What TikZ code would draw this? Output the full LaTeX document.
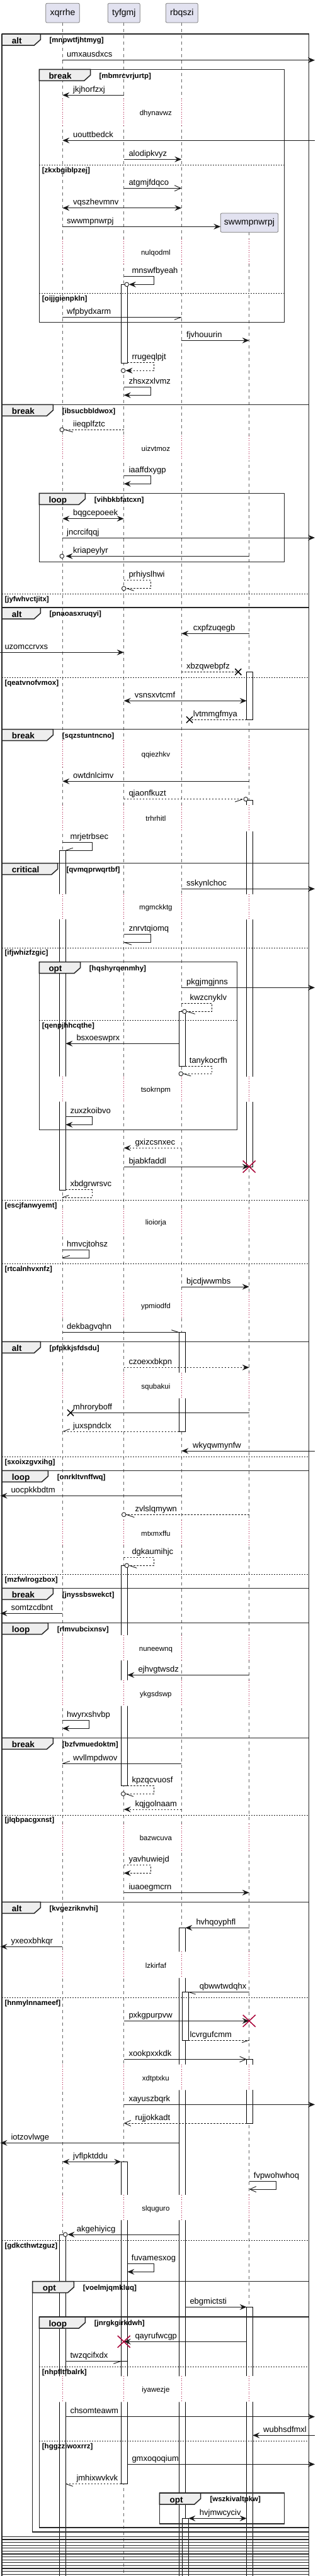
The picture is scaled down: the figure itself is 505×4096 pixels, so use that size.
\documentclass[tikz,border=0pt]{standalone}
\usepackage{fontspec}
\setmainfont{Liberation Sans}
\usetikzlibrary{arrows.meta}
\definecolor{partfill}{HTML}{E2E2F0}
\definecolor{tabfill}{HTML}{EEEEEE}
\definecolor{delayred}{HTML}{A80036}
\def\LA{99.3}
\def\LB{196.7}
\def\LC{288.3}
\def\LD{395.7}
\tikzset{
 life/.style={draw=black!60, line width=0.7pt, dash pattern=on 5pt off 5pt},
 actv/.style={draw=black, fill=white, line width=0.8pt},
 dlyl/.style={draw=delayred, line width=0.8pt, dash pattern=on 1pt off 2.5pt},
 frm/.style={draw=black!85, line width=1.5pt},
 dvdl/.style={draw=black!85, line width=0.8pt, dash pattern=on 2pt off 2pt},
 part/.style={draw=black!55, fill=partfill, rounded corners=2pt, line width=0.7pt, inner sep=0pt, text height=10pt, text depth=3pt, font=\fontsize{14}{16}\selectfont},
 msgl/.style={draw=black!90, line width=0.9pt},
 dsh/.style={dash pattern=on 2.5pt off 2.5pt},
 fa/.style={-{Stealth[length=11pt,width=9pt,inset=4pt]}},
 fb/.style={{Stealth[length=11pt,width=9pt,inset=4pt]}-{Stealth[length=11pt,width=9pt,inset=4pt]}},
 oa/.style={-{Straight Barb[length=10pt,width=9pt]}},
 lbl/.style={anchor=base west, inner sep=0pt, font=\fontsize{13}{15}\selectfont},
 dlyt/.style={anchor=base, inner sep=0pt, font=\fontsize{11.5}{13}\selectfont},
 grd/.style={anchor=base west, inner sep=0pt, font=\bfseries\fontsize{11.5}{13}\selectfont},
 tabl/.style={anchor=base west, inner sep=0pt, font=\bfseries\fontsize{13.5}{15}\selectfont}
}
\newcommand{\lbl}[3]{\node[lbl] (m-#3) at (#1,#2) {#3};}
\newcommand{\ecirc}[2]{\draw[msgl, fill=white] (#1,#2) circle[radius=3.3pt];}
\newcommand{\lostx}[2]{\draw[line width=1.5pt, draw=black] (#1-5,#2-5) -- (#1+5,#2+5) (#1-5,#2+5) -- (#1+5,#2-5);}
\newcommand{\destroyx}[2]{\draw[line width=1.5pt, draw=delayred] (#1-10,#2-9.5) -- (#1+10,#2+9.5) (#1-10,#2+9.5) -- (#1+10,#2-9.5);}
\newcommand{\ftab}[7]{%
 \draw[frm, fill=tabfill] (#1,#2) -- (#3,#2) -- (#3,#2+9) -- (#3-10,#2+18) -- (#1,#2+18) -- cycle;
 \node[tabl] (t-#7) at (#4,#2+15) {#5};
 \node[grd] (g-#7) at (#6,#2+13.7) {[#7]};}
\newcommand{\dvd}[5]{%
 \draw[dvdl] (#1,#3) -- (#2,#3);
 \node[grd] (g-#5) at (#4,#3+11.8) {[#5]};}
\newcommand{\dly}[4]{%
 \fill[white] (93,#1) rectangle (106,#2) (190.5,#1) rectangle (204,#2) (282.5,#1) rectangle (301,#2);
 \draw[dlyl] (\LA,#1) -- (\LA,#2) (\LB,#1) -- (\LB,#2) (\LC,#1) -- (\LC,#2);
 \ifnum#4=1
 \fill[white] (390,#1) rectangle (403,#2);
 \draw[dlyl] (\LD,#1) -- (\LD,#2);
 \fi
 \node[dlyt] (d-#3) at ({247.4},{(#1+#2)/2+5}) {#3};}
\begin{document}
\begin{tikzpicture}[x=1pt,y=-1pt]
\useasboundingbox (0,0) rectangle (505,4096);
\fill[white] (0,0) rectangle (505,4096);
% lifelines
\draw[life] (\LA,36) -- (\LA,4096);
\draw[life] (\LB,36) -- (\LB,4096);
\draw[life] (\LC,36) -- (\LC,4096);
\draw[life] (\LD,369.3) -- (\LD,4096);
% activations
\draw[actv] (94.7,1352.3) rectangle (104.3,1892.3);
\draw[actv] (94.7,3553) rectangle (104.3,4100);
\draw[actv] (192.3,452.3) rectangle (202.3,577.3);
\draw[actv] (192.3,2489.3) rectangle (202.3,2839.3);
\draw[actv] (192.3,3437.3) rectangle (202.3,3949.3);
\draw[actv] (192.3,3754.3) rectangle (202.3,3949.3);
\draw[actv] (284.3,1608.3) rectangle (294.3,1695);
\draw[actv] (284.3,2118.7) rectangle (294.3,2276.3);
\draw[actv] (284.3,3065.3) rectangle (294.3,4100);
\draw[actv] (289.3,3167.3) rectangle (299.3,3244);
\draw[actv] (289.3,4004.3) rectangle (299.3,4100);
\draw[actv] (391.7,1068.3) rectangle (401.3,1144.3);
\draw[actv] (391.7,1272.3) rectangle (401.3,1855);
\draw[actv] (391.7,3274.3) rectangle (401.3,3376);
\draw[actv] (391.7,3668.3) rectangle (401.3,4100);
% delays
\dly{156.7}{200}{dhynavwz}{0}
\dly{380}{420}{nulqodml}{1}
\dly{693.3}{731.7}{uizvtmoz}{1}
\dly{1176.7}{1220}{qqiezhkv}{1}
\dly{1280}{1321.7}{trhrhitl}{1}
\dly{1421.7}{1461.7}{mgmckktg}{1}
\dly{1711.7}{1751.7}{tsokrnpm}{1}
\dly{1922}{1963}{lioiorja}{1}
\dly{2055}{2095}{ypmiodfd}{1}
\dly{2182.7}{2223.3}{squbakui}{1}
\dly{2417}{2457}{mtxmxffu}{1}
\dly{2600}{2640}{nuneewnq}{1}
\dly{2671.7}{2712.7}{ykgsdswp}{1}
\dly{2900}{2942.7}{bazwcuva}{1}
\dly{3103.3}{3145}{lzkirfaf}{1}
\dly{3282.7}{3323.3}{xdtptxku}{1}
\dly{3490}{3530}{slquguro}{1}
\dly{3778.3}{3819.3}{iyawezje}{1}
% participants
\node[part, minimum width=53.6pt, minimum height=30.7pt] (xqrrhe) at (99.5,20.65) {xqrrhe};
\node[part, minimum width=51pt, minimum height=30.7pt] (tyfgmj) at (196.8,20.65) {tyfgmj};
\node[part, minimum width=51pt, minimum height=30.7pt] (rbqszi) at (288.8,20.65) {rbqszi};
\node[part, minimum width=91.4pt, minimum height=30.3pt] (swwmpnwrpj) at (396,354.15) {swwmpnwrpj};
% full-width frames
\draw[frm] (3,54) -- (3,4100);
\draw[frm] (490.7,54) -- (490.7,4100);
\foreach \t in {54,643.3,966,1159.7,1372.7,2133.3,2338.3,2525.3,2580.7,2763.3,3024.3} {\draw[frm] (3,\t) -- (490.7,\t);}
\ftab{3}{54}{64.3}{18.7}{alt}{78.3}{mnpwtfjhtmyg}
\ftab{3}{643.3}{84.3}{18.7}{break}{98.7}{ibsucbbldwox}
\ftab{3}{966}{64.3}{18.7}{alt}{78.3}{pnaoasxruqyi}
\ftab{3}{1159.7}{84.3}{18.7}{break}{98.7}{sqzstuntncno}
\ftab{3}{1372.7}{91.7}{18.7}{critical}{105.3}{qvmqprwqrtbf}
\ftab{3}{2133.3}{64.3}{18.7}{alt}{78.3}{pfpkkjsfdsdu}
\ftab{3}{2338.3}{76.3}{18.7}{loop}{90.7}{onrkltvnffwq}
\ftab{3}{2525.3}{84.3}{18.7}{break}{98.7}{jnyssbswekct}
\ftab{3}{2580.7}{76.3}{18.7}{loop}{90.7}{rlmvubcixnsv}
\ftab{3}{2763.3}{84.3}{18.7}{break}{98.7}{bzfvmuedoktm}
\ftab{3}{3024.3}{64.3}{18.7}{alt}{78.3}{kvgezriknvhi}
% inner frames
\draw[frm] (62.3,110.3) rectangle (451.7,512.3);
\ftab{62.3}{110.3}{143.7}{77.3}{break}{157.3}{mbmrcvrjurtp}
\draw[frm] (62.3,784.3) rectangle (451.7,893.3);
\ftab{62.3}{784.3}{135.3}{77.3}{loop}{149.7}{vihbkbfatcxn}
\draw[frm] (62.3,1529.7) rectangle (376.7,1796.7);
\ftab{62.3}{1529.7}{127.7}{77.3}{opt}{141.7}{hqshyrqenmhy}
\draw[frm] (490.7,3627.7) -- (51.7,3627.7) -- (51.7,4026) -- (490.7,4026);
\ftab{51.7}{3627.7}{117.3}{67.7}{opt}{131.7}{voelmjqmkluq}
\draw[frm] (490.7,3684) -- (62.3,3684) -- (62.3,4019) -- (490.7,4019);
\ftab{62.3}{3684}{135.3}{77.3}{loop}{149.7}{jnrgkgirkdwh}
\draw[frm] (253.3,3964) rectangle (451.7,4012.7);
\ftab{253.3}{3964}{318.7}{269.3}{opt}{333.3}{wszkivaltpkw}
% dividers
\dvd{62.3}{451.7}{262.3}{66.7}{zkxbgiblpzej}
\dvd{62.3}{451.7}{466.3}{66.7}{oijjgienpkln}
\dvd{3}{490.7}{944.3}{7.3}{jyfwhvctjitx}
\dvd{3}{490.7}{1077.3}{7.3}{qeatvnofvmox}
\dvd{3}{490.7}{1507}{7.3}{ifjwhizfzgic}
\dvd{62.3}{376.7}{1622.3}{66.7}{qenpjhhcqthe}
\dvd{3}{490.7}{1908.7}{7.3}{escjfanwyemt}
\dvd{3}{490.7}{2009.3}{7.3}{rtcalnhvxnfz}
\dvd{3}{490.7}{2316.3}{7.3}{sxoixzgvxihg}
\dvd{3}{490.7}{2503.3}{7.3}{mzfwlrogzbox}
\dvd{3}{490.7}{2886}{7.3}{jlqbpacgxnst}
\dvd{3}{490.7}{3176.3}{7.3}{hnmylnnameef}
\dvd{3}{490.7}{3562.7}{7.3}{gdkcthwtzguz}
\dvd{62.3}{490.7}{3763.3}{66.7}{nhpfltfbalrk}
\dvd{62.3}{490.7}{3881.7}{66.7}{hggzziwoxrrz}
% stacked bottoms
\foreach \i in {0,...,13} {\draw[frm, line width=1.2pt] (3,{4033.3+4.6*\i}) -- (490.7,{4033.3+4.6*\i});}
% messages
\draw[msgl,fa] (\LA,95.7) -- (500,95.7);
\lbl{106}{90.7}{umxausdxcs}
\draw[msgl,fa] (\LB,151.3) -- (\LA,151.3);
\lbl{116}{146.3}{jkjhorfzxj}
\draw[msgl,fa] (500,223.3) -- (\LA,223.3);
\lbl{116}{218.3}{uouttbedck}
\draw[msgl,fa] (\LB,253.3) -- (\LC,253.3);
\lbl{204.3}{248.3}{alodipkvyz}
\draw[msgl,oa] (\LB,299.3) -- (\LC,299.3);
\lbl{204.3}{294.3}{atgmjfdqco}
\draw[msgl,fb] (\LA,330.7) -- (\LC,330.7);
\lbl{116}{325.7}{vqszhevmnv}
\draw[msgl,fa] (\LA,360.3) -- (350.3,360.3);
\lbl{106}{355.3}{swwmpnwrpj}
\draw[msgl,fa] (\LB,439.3) -- (244.3,439.3) -- (244.3,452.3) -- (204.8,452.3);
\ecirc{201.3}{452.3}
\lbl{209.3}{434.3}{mnswfbyeah}
\draw[msgl] (\LA,504.3) -- (\LC,504.3);
\draw[msgl] (\LC,504.3) -- (277,508.3);
\lbl{106}{499.3}{wfpbydxarm}
\draw[msgl,fa] (\LC,541.3) -- (\LD,541.3);
\lbl{296}{536.3}{fjvhouurin}
\draw[msgl,dsh,fa] (202.3,576.3) -- (244.3,576.3) -- (244.3,589.3) -- (199.5,589.3);
\ecirc{195.7}{589.3}
\lbl{209.3}{571.3}{rrugeqlpjt}
\draw[msgl,fa] (\LB,615.3) -- (239.3,615.3) -- (239.3,628.3) -- (\LB,628.3);
\lbl{204.3}{610.3}{zhsxzxlvmz}
\draw[msgl,dsh] (\LB,683.3) -- (101.6,683.3);
\ecirc{98.3}{683.3}
\draw[msgl] (103,683.3) -- (115.7,687);
\lbl{116}{678.3}{iieqplfztc}
\draw[msgl,fa] (\LB,756.7) -- (239.3,756.7) -- (239.3,769.3) -- (\LB,769.3);
\lbl{204.3}{751.7}{iaaffdxygp}
\draw[msgl,fb] (\LA,824.7) -- (\LB,824.7);
\lbl{116}{819.7}{bqgcepoeek}
\draw[msgl,fa] (\LA,855) -- (500,855);
\lbl{106}{850}{jncrcifqqj}
\draw[msgl,fa] (\LD,884.3) -- (104.5,884.3);
\ecirc{98.3}{884.3}
\lbl{116}{879.3}{kriapeylyr}
\draw[msgl,dsh] (\LB,922.7) -- (239.3,922.7) -- (239.3,935.7) -- (200,935.7);
\ecirc{196.7}{935.7}
\draw[msgl] (201.5,935.7) -- (212.7,939.3);
\lbl{204.3}{917.7}{prhiyslhwi}
\draw[msgl,fa] (\LD,1007.3) -- (\LC,1007.3);
\lbl{306.7}{1002.3}{cxpfzuqegb}
\draw[msgl,fa] (0,1037.3) -- (\LB,1037.3);
\lbl{7.3}{1032.3}{uzomccrvxs}
\draw[msgl,dsh] (\LC,1068.3) -- (378.3,1068.3);
\lostx{378.3}{1068.3}
\lbl{296}{1063.3}{xbzqwebpfz}
\draw[msgl,fb] (\LB,1114.3) -- (391.7,1114.3);
\lbl{213.7}{1109.3}{vsnsxvtcmf}
\draw[msgl,dsh] (391.7,1144.3) -- (301,1144.3);
\lostx{301}{1144.3}
\lbl{306.7}{1139.3}{lvtmmgfmya}
\draw[msgl,fa] (\LD,1242.3) -- (\LA,1242.3);
\lbl{116}{1237.3}{owtdnlcimv}
\draw[msgl,dsh] (\LB,1270.7) -- (387,1270.7);
\ecirc{390.3}{1270.7}
\draw[msgl] (385.5,1270.7) -- (373.3,1275);
\lbl{204.3}{1265.7}{qjaonfkuzt}
\draw[msgl] (\LA,1339.3) -- (146.3,1339.3) -- (146.3,1352.3) -- (104.3,1352.3);
\draw[msgl] (104.3,1352.3) -- (115.7,1348.3);
\lbl{111.3}{1334.3}{mrjetrbsec}
\draw[msgl,fa] (\LC,1413.3) -- (500,1413.3);
\lbl{296}{1408.3}{sskynlchoc}
\draw[msgl] (\LB,1485.3) -- (239.3,1485.3) -- (239.3,1498.3) -- (\LB,1498.3);
\draw[msgl] (\LB,1498.3) -- (209,1502.3);
\lbl{204.3}{1480.3}{znrvtqiomq}
\draw[msgl,fa] (\LC,1570.3) -- (500,1570.3);
\lbl{296}{1565.3}{pkgjmgjnns}
\draw[msgl,dsh] (\LC,1595.7) -- (336.7,1595.7) -- (336.7,1608.3) -- (296.3,1608.3);
\ecirc{293}{1608.3}
\draw[msgl] (297,1608.3) -- (309.7,1612.3);
\lbl{301.3}{1590.7}{kwzcnyklv}
\draw[msgl,fa] (284.3,1659.3) -- (104.3,1659.3);
\lbl{121.3}{1654.3}{bsxoeswprx}
\draw[msgl,dsh] (294.3,1695) -- (336.7,1695) -- (336.7,1707.3) -- (290.6,1707.3);
\ecirc{287.3}{1707.3}
\draw[msgl] (291.5,1707.3) -- (303.3,1711);
\lbl{300.7}{1690}{tanykocrfh}
\draw[msgl,fa] (104.3,1775.7) -- (146.3,1775.7) -- (146.3,1788.3) -- (104.3,1788.3);
\lbl{111.3}{1770.7}{zuxzkoibvo}
\draw[msgl,dsh,fa] (\LC,1825.3) -- (\LB,1825.3);
\lbl{214.3}{1820.3}{gxizcsnxec}
\draw[msgl,fa] (\LB,1855) -- (\LD,1855);
\destroyx{\LD}{1855}
\lbl{204.3}{1850}{bjabkfaddl}
\draw[msgl,dsh] (104.3,1891.7) -- (146.3,1891.7) -- (146.3,1904) -- (\LA,1904);
\draw[msgl] (\LA,1904) -- (109.3,1900.5);
\lbl{111.3}{1886.7}{xbdgrwrsvc}
\draw[msgl] (\LA,1987.3) -- (141.3,1987.3) -- (141.3,2000) -- (\LA,2000);
\draw[msgl] (\LA,2000) -- (110.7,1996.3);
\lbl{106}{1982.3}{hmvcjtohsz}
\draw[msgl,fa] (\LC,2046) -- (\LD,2046);
\lbl{296}{2041}{bjcdjwwmbs}
\draw[msgl] (\LA,2118.7) -- (284.3,2118.7);
\draw[msgl] (284.3,2118.7) -- (272.3,2114.7);
\lbl{106}{2113.7}{dekbagvqhn}
\draw[msgl,dsh,fa] (\LB,2174.3) -- (\LD,2174.3);
\lbl{204.3}{2169.3}{czoexxbkpn}
\draw[msgl] (\LD,2246.3) -- (112,2246.3);
\lostx{112}{2246.3}
\lbl{116}{2241.3}{mhroryboff}
\draw[msgl,dsh] (284.3,2276.3) -- (\LA,2276.3);
\draw[msgl] (\LA,2276.3) -- (110.7,2272.3);
\lbl{116}{2271.3}{juxspndclx}
\draw[msgl,fa] (500,2307) -- (\LC,2307);
\lbl{306}{2302}{wkyqwmynfw}
\draw[msgl,fa] (\LC,2378.3) -- (0.5,2378.3);
\lbl{17.3}{2373.3}{uocpkkbdtm}
\draw[msgl,dsh] (\LD,2408.3) -- (200,2408.3);
\ecirc{196.7}{2408.3}
\draw[msgl] (201,2408.3) -- (213.3,2412.6);
\lbl{214.3}{2403.3}{zvlslqmywn}
\draw[msgl,dsh] (\LB,2476.7) -- (244.3,2476.7) -- (244.3,2489.3) -- (204.6,2489.3);
\ecirc{201.3}{2489.3}
\draw[msgl] (205.5,2489.3) -- (217.3,2493.3);
\lbl{209.3}{2471.7}{dgkaumihjc}
\draw[msgl,fa] (\LA,2565.3) -- (0.5,2565.3);
\lbl{17.3}{2560.3}{somtzcdbnt}
\draw[msgl,fa] (\LD,2663.3) -- (202.3,2663.3);
\lbl{219.3}{2658.3}{ejhvgtwsdz}
\draw[msgl,fa] (\LA,2735.3) -- (141.3,2735.3) -- (141.3,2748.3) -- (\LA,2748.3);
\lbl{106}{2730.3}{hwyrxshvbp}
\draw[msgl] (\LC,2804.3) -- (\LA,2804.3);
\draw[msgl] (\LA,2804.3) -- (110.7,2800.3);
\lbl{116}{2799.3}{wvllmpdwov}
\draw[msgl,dsh] (202.3,2839.3) -- (244.3,2839.3) -- (244.3,2852.3) -- (199,2852.3);
\ecirc{195.7}{2852.3}
\draw[msgl] (200,2852.3) -- (211.7,2856.5);
\lbl{209.3}{2834.3}{kpzqcvuosf}
\draw[msgl,dsh,fa] (\LC,2877) -- (\LB,2877);
\lbl{214.3}{2872}{kqjgolnaam}
\draw[msgl,dsh,fa] (\LB,2965.7) -- (239.3,2965.7) -- (239.3,2978.3) -- (\LB,2978.3);
\lbl{204.3}{2960.7}{yavhuwiejd}
\draw[msgl,fa] (\LB,3009.3) -- (\LD,3009.3);
\lbl{204.3}{3004.3}{iuaoegmcrn}
\draw[msgl,fa] (\LD,3065.3) -- (294.3,3065.3);
\lbl{311.3}{3060.3}{hvhqoyphfl}
\draw[msgl,fa] (\LA,3095.3) -- (0.5,3095.3);
\lbl{17.3}{3090.3}{yxeoxbhkqr}
\draw[msgl] (\LD,3167.3) -- (299.3,3167.3);
\draw[msgl] (299.3,3167.3) -- (310.7,3171);
\lbl{316.7}{3162.3}{qbwwtwdqhx}
\draw[msgl,fa] (\LB,3213.3) -- (\LD,3213.3);
\destroyx{\LD}{3213.3}
\lbl{204.3}{3208.3}{pxkgpurpvw}
\draw[msgl,dsh] (299.3,3244) -- (\LD,3244);
\draw[msgl] (\LD,3244) -- (384.3,3247.7);
\lbl{301.3}{3239}{lcvrgufcmm}
\draw[msgl,oa] (\LB,3274.3) -- (391.7,3274.3);
\lbl{204.3}{3269.3}{xookpxxkdk}
\draw[msgl,fa] (\LB,3346.3) -- (500,3346.3);
\lbl{204.3}{3341.3}{xayuszbqrk}
\draw[msgl,dsh,oa] (391.7,3376) -- (\LB,3376);
\lbl{214.3}{3371}{rujjokkadt}
\draw[msgl,fa] (284.3,3407.3) -- (0.5,3407.3);
\lbl{17.3}{3402.3}{iotzovlwge}
\draw[msgl,fb] (\LA,3437.3) -- (192.3,3437.3);
\lbl{116}{3432.3}{jvflpktddu}
\draw[msgl,oa] (\LD,3468.7) -- (438.3,3468.7) -- (438.3,3481) -- (\LD,3481);
\lbl{402.7}{3463.7}{fvpwohwhoq}
\draw[msgl,fa] (284.3,3553) -- (107.5,3553);
\ecirc{103.7}{3553}
\lbl{121.7}{3548}{akgehiyicg}
\draw[msgl,fa] (202.3,3599.7) -- (244.3,3599.7) -- (244.3,3612.3) -- (202.3,3612.3);
\lbl{208.7}{3594.7}{fuvamesxog}
\draw[msgl,fa] (294.3,3668.3) -- (391.7,3668.3);
\lbl{301.3}{3663.3}{ebgmictsti}
\draw[msgl,fa] (391.7,3723.3) -- (\LB,3723.3);
\destroyx{\LB}{3723.3}
\lbl{214.3}{3718.3}{qayrufwcgp}
\draw[msgl] (104.3,3754.3) -- (192.3,3754.3);
\draw[msgl] (192.3,3754.3) -- (180.3,3758.3);
\lbl{111.3}{3749.3}{twzqcifxdx}
\draw[msgl,fa] (104.3,3842.7) -- (500,3842.7);
\lbl{111.3}{3837.7}{chsomteawm}
\draw[msgl,fa] (500,3872.3) -- (401.3,3872.3);
\lbl{418}{3867.3}{wubhsdfmxl}
\draw[msgl,fa] (202.3,3918.3) -- (500,3918.3);
\lbl{209.3}{3913.3}{gmxoqoqium}
\draw[msgl,dsh] (192.3,3949.3) -- (104.3,3949.3);
\draw[msgl] (104.3,3949.3) -- (115.7,3953.3);
\lbl{121.3}{3944.3}{jmhixwvkvk}
\draw[msgl,fb] (299.3,4004.3) -- (391.7,4004.3);
\lbl{316.7}{3999.3}{hvjmwcyciv}
\end{tikzpicture}
\end{document}
